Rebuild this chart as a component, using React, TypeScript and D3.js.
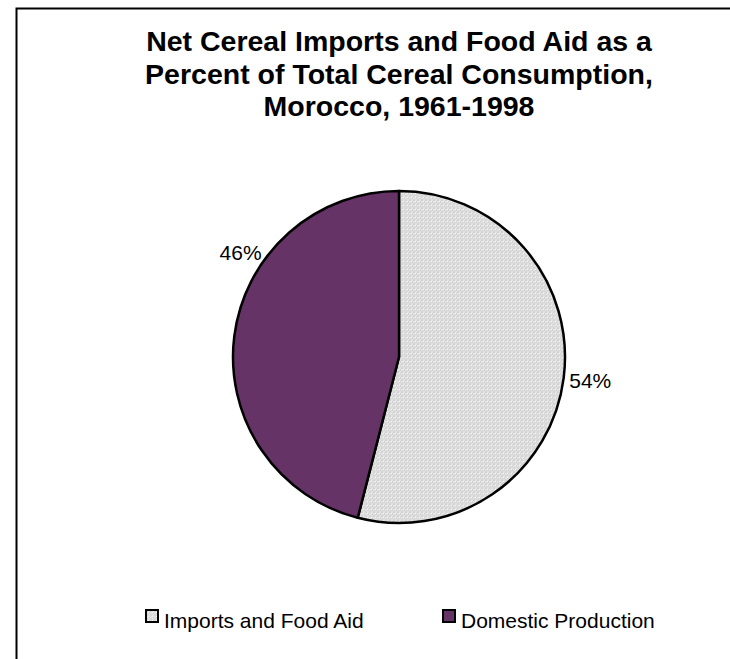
import React from "react";
import * as d3 from "d3";

const categories = ["Imports and Food Aid", "Domestic Production"];
const values = [54, 46];
const labels = ["54%", "46%"];
const titleLines = [
  "Net Cereal Imports and Food Aid as a",
  "Percent of Total Cereal Consumption,",
  "Morocco, 1961-1998",
];

export default function App() {
  const W = 730, H = 659;
  const cx = 399, cy = 357, r = 166;
  const pie = d3.pie<number>().sort(null).startAngle(0).endAngle(2 * Math.PI);
  const arcs = pie(values);
  const arcGen = d3.arc<d3.PieArcDatum<number>>().innerRadius(0).outerRadius(r);
  const fills = ["url(#dots)", "#663366"];
  const labelY = [381, 253];
  const labelX = labelY.map((y, i) => {
    const dx = Math.sqrt(r * r - (y - cy) * (y - cy));
    return i === 0 ? cx + dx + 6 : cx - dx - 8;
  });
  const anchors = ["start", "end"];
  const legendSq = [146, 443];
  return (
    <svg
      width={W}
      height={H}
      style={{ position: "fixed", left: 0, top: 0, display: "block", overflow: "hidden", fontFamily: "Arial, 'Liberation Sans', sans-serif" }}
    >
      <defs>
        <pattern id="dots" width="4" height="4" patternUnits="userSpaceOnUse">
          <rect width="4" height="4" fill="#e2e2e2" />
          <rect x="0" y="0" width="2" height="2" fill="#d4d4d4" />
          <rect x="2" y="2" width="2" height="2" fill="#d4d4d4" />
          <rect x="0" y="0" width="1" height="1" fill="#f6f6f6" />
        </pattern>
      </defs>
      <rect x={0} y={0} width={W} height={H} fill="#fff" />
      <rect x={16.5} y={8.5} width={W + 20} height={H + 20} fill="#fff" stroke="#000" strokeWidth={2} />
      {titleLines.map((t, i) => (
        <text key={i} x={399} y={51 + i * 32.5} textAnchor="middle" fontWeight="bold" fontSize={28.5} fill="#000">
          {t}
        </text>
      ))}
      <g transform={`translate(${cx},${cy})`}>
        {arcs.map((a, i) => (
          <path key={i} d={arcGen(a) || ""} fill={fills[i]} stroke="#000" strokeWidth={2.5} strokeLinejoin="round" />
        ))}
      </g>
      {arcs.map((a, i) => (
        <text key={i} x={labelX[i]} y={labelY[i] + 7} textAnchor={anchors[i]} fontSize={21} fill="#000">
          {labels[i]}
        </text>
      ))}
      {categories.map((c, i) => (
        <g key={c}>
          <rect x={legendSq[i]} y={610} width={12} height={12} fill={fills[i]} stroke="#000" strokeWidth={2} />
          <text x={legendSq[i] + 18} y={628} fontSize={21} fill="#000">
            {c}
          </text>
        </g>
      ))}
    </svg>
  );
}
